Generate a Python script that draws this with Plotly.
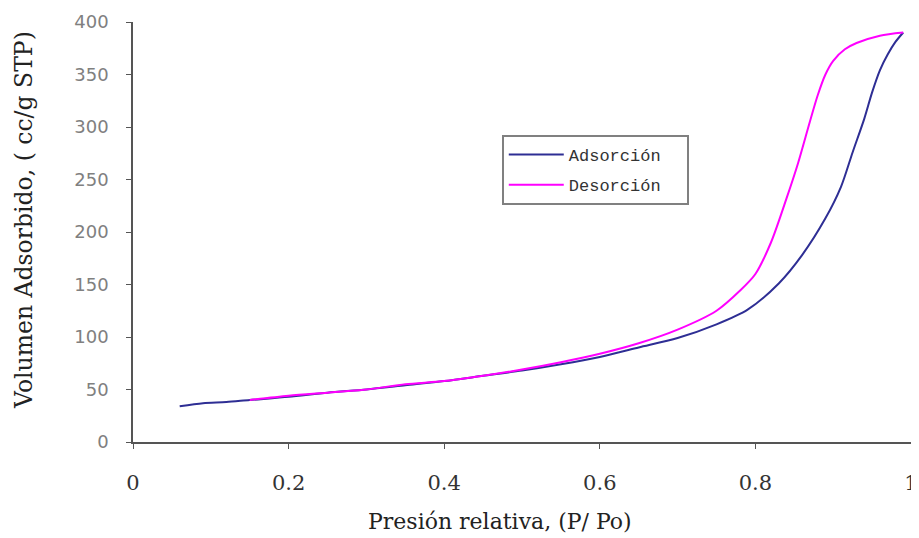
import plotly.graph_objects as go

# adsorcion branch (P/Po, volumen)
ads_x = [0.06, 0.09, 0.12, 0.15, 0.2, 0.25, 0.3, 0.35, 0.4, 0.45, 0.5, 0.55, 0.6, 0.65,
         0.7, 0.75, 0.79, 0.83, 0.86, 0.89, 0.91, 0.925, 0.94, 0.95, 0.96, 0.97, 0.98, 0.99]
ads_y = [34, 37, 38, 40, 43, 47, 50, 54, 58, 63, 68, 74, 81, 90,
         99, 112, 126, 151, 178, 213, 243, 276, 308, 333, 354, 369, 381, 390]

# desorcion branch, from high to low pressure
des_x = [0.99, 0.96, 0.93, 0.915, 0.9, 0.89, 0.88, 0.87, 0.855, 0.84, 0.82, 0.8,
         0.78, 0.75, 0.7, 0.65, 0.6, 0.55, 0.5, 0.45, 0.4, 0.35, 0.3, 0.25, 0.2, 0.15]
des_y = [390, 387, 380, 374, 363, 350, 330, 305, 266, 232, 190, 160,
         144, 125, 107, 94, 84, 76, 69, 63, 58, 55, 50, 47, 44, 40]

fig = go.Figure()
fig.add_trace(go.Scatter(x=ads_x, y=ads_y, mode="lines", name="Adsorción  ", legendgroup="a",
                         line=dict(color="#2e2e94", width=2, shape="spline", smoothing=0.8)))
fig.add_trace(go.Scatter(x=des_x, y=des_y, mode="lines", name="Desorción  ", legendgroup="d",
                         line=dict(color="#ff00ff", width=2, shape="spline", smoothing=0.8)))

# the page body has an 8px margin, so the figure is a bit smaller than the window
fig.update_layout(
    width=911, height=530,
    margin=dict(l=125, r=8, t=14, b=96),
    paper_bgcolor="white", plot_bgcolor="white",
    showlegend=True,
    legend=dict(x=0.474, y=0.731, xanchor="left", yanchor="top",
                bgcolor="white", bordercolor="#808080", borderwidth=2,
                itemwidth=55, tracegroupgap=5,
                font=dict(family="Liberation Mono", size=17, color="#333333")),
    xaxis=dict(range=[0, 1], tickvals=[0, 0.2, 0.4, 0.6, 0.8, 1],
               ticktext=["0", "0.2", "0.4", "0.6", "0.8", "1"], automargin=False,
               showgrid=False, zeroline=False, showline=True, linecolor="#555555", linewidth=1.5,
               ticks="outside", ticklen=5, tickcolor="#555555", ticklabelstandoff=16,
               tickfont=dict(family="DejaVu Serif", size=21, color="#333333")),
    yaxis=dict(range=[0, 400], dtick=50, automargin=False,
               showgrid=False, zeroline=False, showline=True, linecolor="#555555", linewidth=1.5,
               ticks="outside", ticklen=5, tickcolor="#555555", ticklabelstandoff=14,
               tickfont=dict(family="DejaVu Sans", size=18, color="#808080")),
)

fig.add_annotation(text="Presión relativa, (P/ Po)", xref="paper", yref="paper",
                   x=0.472, y=-0.19, xanchor="center", yanchor="middle", showarrow=False,
                   font=dict(family="DejaVu Serif", size=22, color="#222222"))
fig.add_annotation(text="Volumen Adsorbido, ( cc/g STP)", xref="paper", yref="paper",
                   x=-0.14, y=0.529, xanchor="center", yanchor="middle",
                   textangle=-90, showarrow=False,
                   font=dict(family="DejaVu Serif", size=23.5, color="#222222"))

fig.write_html("out.html")
